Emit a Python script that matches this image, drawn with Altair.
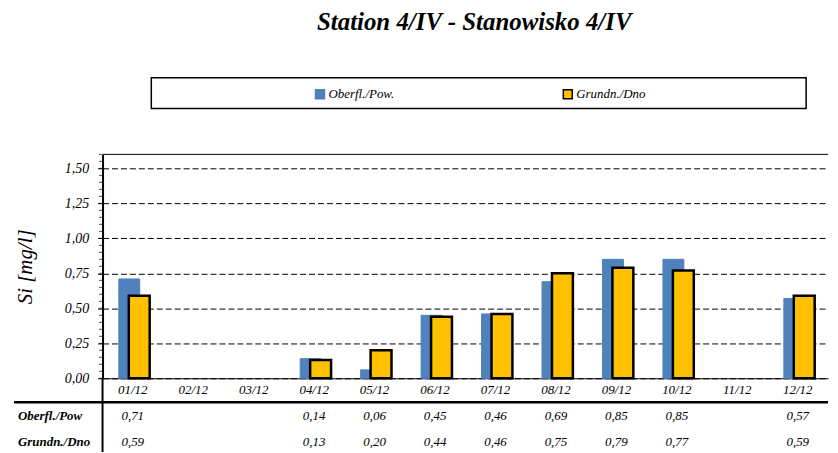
import altair as alt
import pandas as pd

months = ["01/12", "02/12", "03/12", "04/12", "05/12", "06/12",
          "07/12", "08/12", "09/12", "10/12", "11/12", "12/12"]
series = ["Oberfl./Pow.", "Grundn./Dno"]
row_labels = ["Oberfl./Pow", "Grundn./Dno"]
pow_vals = [0.71, None, None, 0.14, 0.06, 0.45, 0.46, 0.69, 0.85, 0.85, None, 0.57]
dno_vals = [0.59, None, None, 0.13, 0.20, 0.44, 0.46, 0.75, 0.79, 0.77, None, 0.59]
y_ticks = [0.0, 0.25, 0.5, 0.75, 1.0, 1.25, 1.5]
minor_ticks = [round(i * 0.05, 2) for i in range(33)]
colors = ["#4F81BD", "#FFC000"]
strokes = ["#4F81BD", "#000000"]

FONT = "Liberation Serif"
W, H = 729, 225


def fmt(v):
    return "" if v is None else f"{v:.2f}".replace(".", ",")


rows = []
for s, vals in zip(series, [pow_vals, dno_vals]):
    for m, v in zip(months, vals):
        rows.append({"month": m, "series": s, "value": v, "label": fmt(v)})
df = pd.DataFrame(rows)
one = pd.DataFrame({"k": [0]})
ticks_df = pd.DataFrame({"value": minor_ticks})

x_enc = alt.X("month:N", sort=months,
              scale=alt.Scale(domain=months, paddingInner=0, paddingOuter=0),
              axis=alt.Axis(title=None, labelAngle=0, ticks=False, domain=True,
                            domainColor="black", domainWidth=1,
                            labelFont=FONT, labelFontStyle="italic",
                            labelFontSize=13, labelColor="black", labelPadding=5,
                            grid=False))
y_axis = alt.Axis(values=y_ticks, title="Si [mg/l]",
                  labelExpr="replace(format(datum.value, '.2f'), '.', ',')",
                  labelFont=FONT, labelFontStyle="italic", labelFontSize=14,
                  labelColor="black", labelPadding=9,
                  titleFont=FONT, titleFontStyle="italic", titleFontSize=21,
                  titleFontWeight="normal", titleColor="black", titlePadding=29,
                  grid=True, gridColor="black", gridDash=[6, 3], gridWidth=1,
                  tickColor="black", tickSize=5, domainColor="black",
                  domainWidth=2)
y_scale = alt.Scale(domain=[0, 1.6], nice=False, zero=True)
y_enc = alt.Y("value:Q", scale=y_scale, axis=y_axis)
color_enc = alt.Color("series:N", scale=alt.Scale(domain=series, range=colors),
                      legend=alt.Legend(title=None))
stroke_enc = alt.Stroke("series:N", scale=alt.Scale(domain=series, range=strokes),
                        legend=alt.Legend(title=None))

base = alt.Chart(df)

bars_pow = base.transform_filter(alt.datum.series == series[0]).mark_bar(
    width=21, xOffset=-3.5, strokeWidth=1).encode(
    x=x_enc, y=y_enc, color=color_enc, stroke=stroke_enc)
bars_dno = base.transform_filter(alt.datum.series == series[1]).mark_bar(
    width=21, xOffset=6.5, strokeWidth=2.5).encode(
    x=x_enc, y=y_enc, color=color_enc, stroke=stroke_enc)

txt_pow = base.transform_filter(alt.datum.series == series[0]).mark_text(
    font=FONT, fontStyle="italic", fontSize=13, color="black").encode(
    x=x_enc, y=alt.value(263), text="label:N")
txt_dno = base.transform_filter(alt.datum.series == series[1]).mark_text(
    font=FONT, fontStyle="italic", fontSize=13, color="black").encode(
    x=x_enc, y=alt.value(289), text="label:N")

row1 = alt.Chart(one).mark_text(font=FONT, fontStyle="italic", fontWeight="bold",
                                fontSize=13, color="black", align="left").encode(
    x=alt.value(-85), y=alt.value(263), text=alt.value(row_labels[0]))
row2 = alt.Chart(one).mark_text(font=FONT, fontStyle="italic", fontWeight="bold",
                                fontSize=13, color="black", align="left").encode(
    x=alt.value(-85), y=alt.value(289), text=alt.value(row_labels[1]))

minor = alt.Chart(ticks_df).mark_tick(color="black", thickness=1, size=3).encode(
    y=y_enc, x=alt.value(-2))

top_rule = alt.Chart(one).mark_rule(color="black", strokeWidth=1).encode(
    x=alt.value(0), x2=alt.value(W), y=alt.value(0))
vert_rule = alt.Chart(one).mark_rule(color="black", strokeWidth=2).encode(
    x=alt.value(0), y=alt.value(H), y2=alt.value(299))
table_rule = alt.Chart(one).mark_rule(color="black", strokeWidth=2.5).encode(
    x=alt.value(-89), x2=alt.value(W), y=alt.value(249))
legend_box = alt.Chart(one).mark_rect(fillOpacity=0, stroke="black",
                                      strokeWidth=1.5).encode(
    x=alt.value(49), x2=alt.value(707), y=alt.value(-77), y2=alt.value(-46))

chart = alt.layer(
    bars_pow, bars_dno, minor, top_rule, vert_rule, table_rule, legend_box,
    txt_pow, txt_dno, row1, row2
).properties(
    width=W, height=H,
    padding={"left": 4, "top": 1, "right": 0, "bottom": 0},
    title=alt.TitleParams("Station  4/IV - Stanowisko 4/IV", font=FONT, fontSize=25,
                          fontStyle="italic", fontWeight="bold", color="black",
                          anchor="middle", dx=9, offset=42),
).configure_view(stroke=None).configure_legend(
    orient="none", legendX=212, legendY=-67, direction="horizontal",
    symbolType="square", symbolSize=81, symbolStrokeWidth=1.5,
    labelFont=FONT, labelFontStyle="italic", labelFontSize=13, labelColor="black",
    labelOffset=2, columnPadding=166, padding=0,
)

chart.save("out.html", embed_options={"renderer": "svg", "actions": False})
